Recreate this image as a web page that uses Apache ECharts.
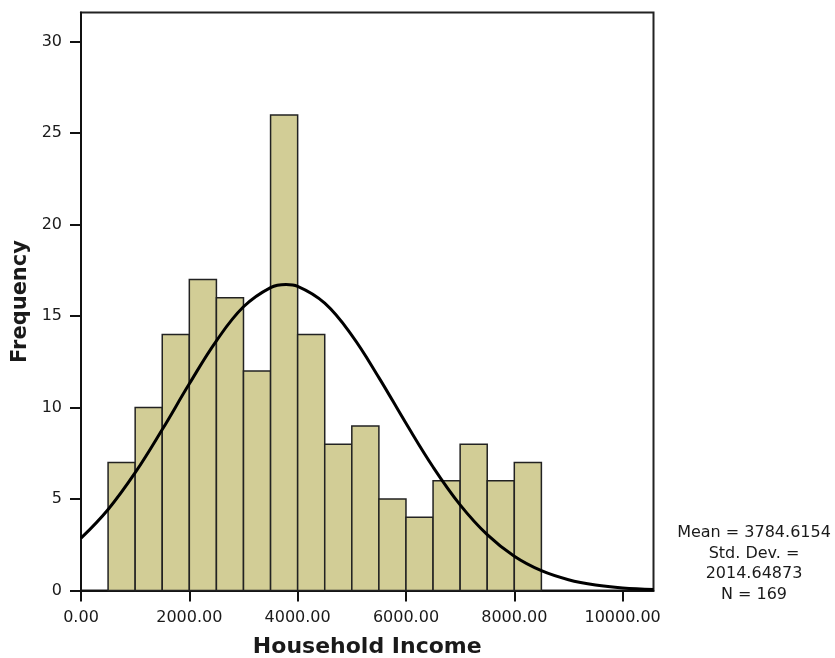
<!DOCTYPE html>
<html>
<head>
<meta charset="utf-8">
<title>Household Income</title>
<script src="https://cdn.jsdelivr.net/npm/echarts@6/dist/echarts.min.js"></script>
<style>
    html, body { margin: 0; padding: 0; background: #fff; }
    #chart { width: 835px; height: 658px; }
</style>
</head>
<body>
<div id="chart"></div>
<script>
    // histogram bins (lower edge), width 500
    const binStart = [500, 1000, 1500, 2000, 2500, 3000, 3500, 4000, 4500, 5000, 5500, 6000, 6500, 7000, 7500, 8000];
    const binWidth = 500;
    const counts = [7, 10, 14, 17, 16, 12, 26, 14, 8, 9, 5, 4, 6, 8, 6, 7];

    // normal curve
    const curveX = [0, 500, 1000, 1500, 2000, 2500, 3000, 3500, 3785, 4000, 4500, 5000, 5500, 6000, 6500, 7000, 7500, 8000, 8500, 9000, 9500, 10000, 10570];
    const curveY = [2.86, 4.43, 6.44, 8.80, 11.30, 13.65, 15.51, 16.56, 16.73, 16.63, 15.71, 13.95, 11.64, 9.14, 6.75, 4.68, 3.05, 1.87, 1.08, 0.59, 0.30, 0.14, 0.06];

    const xTicks = [0, 2000, 4000, 6000, 8000, 10000];
    const yTicks = [0, 5, 10, 15, 20, 25, 30];
    const statLines = ['Mean = 3784.6154', 'Std. Dev. =', '2014.64873', 'N = 169'];

    const font = 'DejaVu Sans';
    const ink = '#1a1a1a';

    let myChart = echarts.init(document.getElementById('chart'));

    let barData = binStart.map((s, i) => [s, s + binWidth, counts[i]]);
    let lineData = curveX.map((x, i) => [x, curveY[i]]);

    let option = {
        animation: false,
        grid: {
            left: 81,
            right: 181.5,
            top: 12.5,
            bottom: 67.5,
            show: true,
            borderColor: '#222',
            borderWidth: 2,
            containLabel: false,
            outerBoundsMode: 'none'
        },
        xAxis: {
            type: 'value',
            min: 0,
            max: 10570,
            name: 'Household Income',
            nameLocation: 'middle',
            nameGap: 46,
            nameTextStyle: { fontFamily: font, fontWeight: 'bold', fontSize: 22, color: ink },
            axisLine: { show: true, onZero: false, lineStyle: { color: '#111', width: 2 } },
            axisTick: { show: true, inside: false, length: 11, lineStyle: { color: '#111', width: 2 }, customValues: xTicks },
            axisLabel: {
                fontFamily: font, fontSize: 16, color: ink, margin: 19,
                customValues: xTicks,
                formatter: v => v.toFixed(2)
            },
            splitLine: { show: false }
        },
        yAxis: {
            type: 'value',
            min: 0,
            max: 31.6,
            name: 'Frequency',
            nameLocation: 'middle',
            nameGap: 48,
            nameTextStyle: { fontFamily: font, fontWeight: 'bold', fontSize: 21, color: ink },
            axisLine: { show: true, lineStyle: { color: '#111', width: 2 } },
            axisTick: { show: true, inside: false, length: 11, lineStyle: { color: '#111', width: 2 }, customValues: yTicks },
            axisLabel: { fontFamily: font, fontSize: 16, color: ink, margin: 19, customValues: yTicks },
            splitLine: { show: false }
        },
        graphic: [
            {
                type: 'text',
                x: 754,
                y: 523,
                style: {
                    text: statLines.join('\n'),
                    align: 'center',
                    textAlign: 'center',
                    fontFamily: font,
                    fontSize: 16,
                    lineHeight: 20.5,
                    fill: ink
                }
            }
        ],
        series: [
            {
                name: 'Household Income',
                type: 'custom',
                data: barData,
                encode: { x: [0, 1], y: 2 },
                renderItem: function (params, api) {
                    let p0 = api.coord([api.value(0), api.value(2)]);
                    let p1 = api.coord([api.value(1), 0]);
                    return {
                        type: 'rect',
                        shape: { x: p0[0], y: p0[1], width: p1[0] - p0[0], height: p1[1] - p0[1] },
                        style: { fill: '#d2cd96', stroke: '#222', lineWidth: 1.5 }
                    };
                },
                z: 2
            },
            {
                name: 'Normal',
                type: 'line',
                data: lineData,
                smooth: 0.4,
                symbol: 'none',
                lineStyle: { color: '#000', width: 3 },
                z: 3
            }
        ]
    };
    myChart.setOption(option);
</script>
</body>
</html>
